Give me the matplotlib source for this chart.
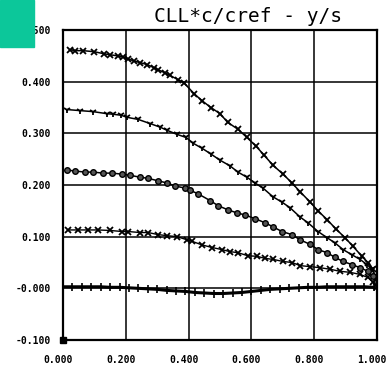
import matplotlib
matplotlib.use('Agg')
import matplotlib.pyplot as plt
from matplotlib.patches import Rectangle
from matplotlib.transforms import ScaledTranslation

# spanwise load curves
s1_x = [0.022, 0.038, 0.064, 0.099, 0.131, 0.150, 0.175, 0.191, 0.207, 0.226, 0.245, 0.268,
        0.290, 0.303, 0.325, 0.341, 0.366, 0.385, 0.417, 0.443, 0.471, 0.500, 0.525, 0.557,
        0.586, 0.615, 0.640, 0.669, 0.701, 0.729, 0.755, 0.787, 0.812, 0.841, 0.869, 0.898,
        0.924, 0.952, 0.971, 0.987, 1.000]
s1_y = [0.462, 0.460, 0.460, 0.458, 0.454, 0.452, 0.450, 0.448, 0.444, 0.440, 0.437, 0.433,
        0.427, 0.423, 0.417, 0.412, 0.404, 0.398, 0.377, 0.363, 0.350, 0.338, 0.321, 0.308,
        0.292, 0.275, 0.258, 0.238, 0.221, 0.204, 0.187, 0.167, 0.150, 0.133, 0.115, 0.098,
        0.081, 0.062, 0.050, 0.037, 0.012]

s2_x = [0.013, 0.054, 0.096, 0.140, 0.159, 0.185, 0.204, 0.239, 0.277, 0.309, 0.331, 0.363,
        0.392, 0.414, 0.443, 0.471, 0.500, 0.532, 0.557, 0.586, 0.611, 0.637, 0.669, 0.697,
        0.723, 0.755, 0.780, 0.812, 0.841, 0.866, 0.892, 0.920, 0.946, 0.968, 0.984, 0.994,
        1.000]
s2_y = [0.346, 0.344, 0.342, 0.338, 0.337, 0.335, 0.331, 0.327, 0.319, 0.312, 0.306, 0.298,
        0.292, 0.281, 0.271, 0.260, 0.248, 0.237, 0.225, 0.215, 0.204, 0.194, 0.177, 0.167,
        0.156, 0.138, 0.127, 0.110, 0.098, 0.088, 0.075, 0.065, 0.056, 0.046, 0.037, 0.023,
        0.012]

s3_x = [0.013, 0.038, 0.070, 0.096, 0.127, 0.156, 0.188, 0.213, 0.245, 0.271, 0.303, 0.331,
        0.357, 0.389, 0.404, 0.430, 0.468, 0.494, 0.525, 0.554, 0.580, 0.611, 0.643, 0.669,
        0.697, 0.729, 0.755, 0.787, 0.812, 0.841, 0.866, 0.892, 0.920, 0.946, 0.971, 0.987,
        0.997]
s3_y = [0.229, 0.227, 0.225, 0.225, 0.223, 0.223, 0.221, 0.219, 0.215, 0.213, 0.208, 0.204,
        0.198, 0.194, 0.190, 0.183, 0.170, 0.160, 0.152, 0.146, 0.142, 0.135, 0.127, 0.119,
        0.110, 0.104, 0.094, 0.085, 0.075, 0.069, 0.060, 0.052, 0.046, 0.040, 0.033, 0.023,
        0.013]

s4_x = [0.016, 0.048, 0.080, 0.111, 0.150, 0.188, 0.207, 0.245, 0.271, 0.303, 0.331, 0.363,
        0.395, 0.411, 0.443, 0.475, 0.506, 0.532, 0.557, 0.589, 0.618, 0.643, 0.669, 0.701,
        0.729, 0.755, 0.787, 0.818, 0.850, 0.882, 0.914, 0.946, 0.971, 0.987, 1.000]
s4_y = [0.113, 0.113, 0.113, 0.113, 0.112, 0.110, 0.110, 0.108, 0.108, 0.104, 0.102, 0.100,
        0.094, 0.091, 0.084, 0.079, 0.075, 0.071, 0.069, 0.063, 0.062, 0.058, 0.056, 0.052,
        0.050, 0.044, 0.042, 0.040, 0.037, 0.033, 0.031, 0.027, 0.021, 0.012, 0.002]

s5_x = [0.00, 0.03, 0.06, 0.09, 0.12, 0.15, 0.18, 0.21, 0.24, 0.27, 0.30, 0.33, 0.36, 0.39,
        0.42, 0.45, 0.48, 0.51, 0.54, 0.57, 0.60, 0.63, 0.66, 0.69, 0.72, 0.75, 0.78, 0.81,
        0.84, 0.87, 0.90, 0.93, 0.96, 0.99]
s5_y = [0.003, 0.003, 0.003, 0.003, 0.003, 0.002, 0.002, 0.001, 0.000, -0.001, -0.002, -0.004,
        -0.005, -0.006, -0.008, -0.009, -0.010, -0.010, -0.009, -0.008, -0.006, -0.004, -0.002,
        -0.001, 0.000, 0.001, 0.002, 0.002, 0.003, 0.003, 0.003, 0.003, 0.003, 0.002]

x_ticks = [0.0, 0.2, 0.4, 0.6, 0.8, 1.0]
x_labels = ['0.000', '0.200', '0.400', '0.600', '0.800', '1.000']
y_ticks = [0.5, 0.4, 0.3, 0.2, 0.1, 0.0, -0.1]
y_labels = ['0.500', '0.400', '0.300', '0.200', '0.100', '-0.000', '-0.100']

fig = plt.figure(figsize=(3.88, 3.69), dpi=100)
ax = fig.add_axes([63 / 388, 1 - 340 / 369, 314 / 388, 310 / 369])

ax.plot(s1_x, s1_y, color='black', lw=1.1, marker='x', ms=4, mew=1.3)
ax.plot(s2_x, s2_y, color='black', lw=1.1, marker='1', ms=5, mew=1.3)
ax.plot(s3_x, s3_y, color='black', lw=1.1, marker='o', ms=4, mfc='#555555', mew=1.0)
ax.plot(s4_x, s4_y, color='black', lw=1.0, marker='x', ms=4, mew=1.3)
ax.plot(s5_x, s5_y, color='black', lw=2.2, marker='|', ms=6, mew=1.2)
ax.plot([0.0], [-0.1], color='black', marker='s', ms=5, clip_on=False, zorder=5)

ax.set_xlim(0, 1)
ax.set_ylim(-0.1, 0.5)
ax.set_xticks(x_ticks)
ax.set_xticklabels(x_labels)
ax.set_yticks(y_ticks)
ax.set_yticklabels(y_labels)
ax.grid(True, color='black', lw=1.1)
for sp in ax.spines.values():
    sp.set_linewidth(1.6)

ax.tick_params(axis='y', length=0, pad=9)
ax.tick_params(axis='x', length=0, pad=11)
shift = ScaledTranslation(-5 / 100, 0, fig.dpi_scale_trans)
for lab in ax.get_xticklabels():
    lab.set_transform(lab.get_transform() + shift)
for lab in ax.get_xticklabels() + ax.get_yticklabels():
    lab.set_fontfamily('DejaVu Sans Mono')
    lab.set_fontweight('bold')
    lab.set_fontsize(7)

fig.text(248 / 388, 1 - 16 / 369, 'CLL*c/cref - y/s', ha='center', va='center',
         family='DejaVu Sans Mono', fontsize=14)

# green tab over the corner
fig.patches.append(Rectangle((0, 1 - 47 / 369), 34 / 388, 47 / 369,
                             transform=fig.transFigure, color='#0CC79A', zorder=10))

fig.savefig('out.png', dpi=100)
